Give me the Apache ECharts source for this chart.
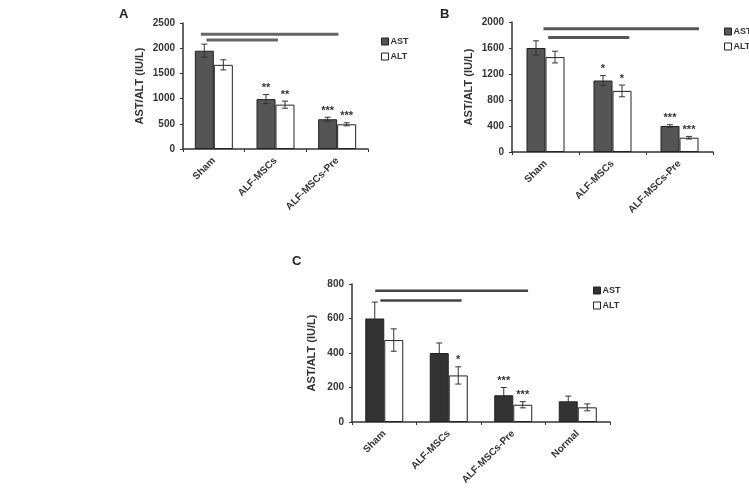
<!DOCTYPE html>
<html>
<head>
<meta charset="utf-8">
<script src="https://cdn.jsdelivr.net/npm/echarts@6/dist/echarts.min.js"></script>
<style>
  html, body { margin: 0; padding: 0; background: #fff; }
  #main { width: 749px; height: 490px; }
</style>
</head>
<body>
<div id="main"></div>
<script>
var chart = echarts.init(document.getElementById('main'));

// categories
var catsAB = ['Sham', 'ALF-MSCs', 'ALF-MSCs-Pre'];
var catsC = ['Sham', 'ALF-MSCs', 'ALF-MSCs-Pre', 'Normal'];

// panel A
var astA = [1950, 990, 590];
var altA = [1670, 880, 490];
var astErrA = [130, 90, 40];
var altErrA = [100, 70, 30];
var astStarsA = ['', '**', '***'];
var altStarsA = ['', '**', '***'];
var bracketsA = [[-0.21, 2.02, 2276], [-0.12, 1.04, 2163]];

// panel B
var astB = [1600, 1100, 400];
var altB = [1460, 940, 220];
var astErrB = [110, 75, 20];
var altErrB = [90, 90, 20];
var astStarsB = ['', '*', '***'];
var altStarsB = ['', '*', '***'];
var bracketsB = [[-0.03, 2.29, 1898], [0.04, 1.25, 1760]];

// panel C
var astC = [600, 400, 155, 120];
var altC = [475, 270, 100, 85];
var astErrC = [95, 58, 45, 30];
var altErrC = [65, 50, 18, 20];
var astStarsC = ['', '', '***', ''];
var altStarsC = ['', '*', '***', ''];
var bracketsC = [[-0.14, 2.23, 761], [-0.06, 1.20, 705]];

var font = 'Liberation Sans, Arial, sans-serif';
var barW = 19;

function errData(vals, errs) {
    return vals.map(function (v, i) { return [i, v - errs[i], v + errs[i]]; });
}

function errRender(sign, stars) {
    return function (params, api) {
        var i = api.value(0);
        var top = api.coord([i, api.value(2)]);
        var bot = api.coord([i, api.value(1)]);
        var x = top[0] + sign * barW / 2;
        var st = { stroke: '#333', lineWidth: 1 };
        var kids = [
            { type: 'line', shape: { x1: x, y1: top[1], x2: x, y2: bot[1] }, style: st },
            { type: 'line', shape: { x1: x - 3, y1: top[1], x2: x + 3, y2: top[1] }, style: st },
            { type: 'line', shape: { x1: x - 3, y1: bot[1], x2: x + 3, y2: bot[1] }, style: st }
        ];
        var s = stars[params.dataIndex];
        if (s) {
            kids.push({
                type: 'text',
                style: {
                    text: s, x: x, y: top[1] - 1, align: 'center', verticalAlign: 'bottom',
                    font: 'bold 11px ' + font, fill: '#333'
                }
            });
        }
        return { type: 'group', children: kids };
    };
}

function bracketRender(color, width) {
    return function (params, api) {
        var bw = api.size([1, 0])[0];
        var p = api.coord([0, api.value(2)]);
        return {
            type: 'line',
            shape: { x1: p[0] + api.value(0) * bw, y1: p[1], x2: p[0] + api.value(1) * bw, y2: p[1] },
            style: { stroke: color, lineWidth: width }
        };
    };
}

function xAxis(gi, cats) {
    return {
        type: 'category', gridIndex: gi, data: cats,
        axisLine: { lineStyle: { color: '#333', width: 1.5 } },
        axisTick: { show: true, length: 3, lineStyle: { color: '#333' } },
        axisLabel: { rotate: 45, fontSize: 10, fontWeight: 'bold', color: '#333', fontFamily: font, margin: 10 }
    };
}

function yAxis(gi, max, interval, gap) {
    return {
        type: 'value', gridIndex: gi, min: 0, max: max, interval: interval,
        name: 'AST/ALT (IU/L)', nameLocation: 'middle', nameGap: gap,
        nameTextStyle: { fontSize: 11, fontWeight: 'bold', color: '#333', fontFamily: font },
        axisLine: { show: true, lineStyle: { color: '#333', width: 1.5 } },
        axisTick: { show: true, length: 3, lineStyle: { color: '#333' } },
        splitLine: { show: false },
        axisLabel: {
            fontSize: 10, fontWeight: 'bold', color: '#333', fontFamily: font, margin: 8,
            formatter: function (v) { return String(v); }
        }
    };
}

function bars(gi, ast, alt, astColor) {
    return [
        {
            name: 'AST', type: 'bar', xAxisIndex: gi, yAxisIndex: gi, data: ast,
            barWidth: barW, barGap: '0%',
            itemStyle: { color: astColor, borderColor: '#222', borderWidth: 1 }
        },
        {
            name: 'ALT', type: 'bar', xAxisIndex: gi, yAxisIndex: gi, data: alt,
            barWidth: barW, barGap: '0%',
            itemStyle: { color: '#fff', borderColor: '#222', borderWidth: 1 }
        }
    ];
}

function extras(gi, ast, alt, astErr, altErr, astStars, altStars, brackets, lineColor, lineW) {
    return [
        { type: 'custom', xAxisIndex: gi, yAxisIndex: gi, renderItem: errRender(-1, astStars), data: errData(ast, astErr), z: 5 },
        { type: 'custom', xAxisIndex: gi, yAxisIndex: gi, renderItem: errRender(1, altStars), data: errData(alt, altErr), z: 5 },
        { type: 'custom', xAxisIndex: gi, yAxisIndex: gi, renderItem: bracketRender(lineColor, lineW), data: brackets, z: 5 }
    ];
}

function legend(left, top, astColor) {
    return {
        left: left, top: top, orient: 'vertical', itemGap: 6, itemWidth: 7, itemHeight: 7,
        icon: 'rect', selectedMode: false,
        textStyle: { fontSize: 9, fontWeight: 'bold', color: '#333', fontFamily: font, padding: [0, 0, 0, -3] },
        data: [
            { name: 'AST', itemStyle: { color: astColor, borderColor: '#222', borderWidth: 1 } },
            { name: 'ALT', itemStyle: { color: '#fff', borderColor: '#222', borderWidth: 1 } }
        ]
    };
}

var option = {
    animation: false,
    backgroundColor: '#fff',
    title: [
        { text: 'A', left: 114, top: 3, textStyle: { fontSize: 13, fontWeight: 'bold', color: '#222', fontFamily: font } },
        { text: 'B', left: 435, top: 3, textStyle: { fontSize: 13, fontWeight: 'bold', color: '#222', fontFamily: font } },
        { text: 'C', left: 287, top: 250, textStyle: { fontSize: 13, fontWeight: 'bold', color: '#222', fontFamily: font } }
    ],
    legend: [
        legend(376, 32, '#555'),
        legend(719, 22, '#555'),
        legend(588, 281, '#333')
    ],
    grid: [
        { left: 183, top: 23, width: 185, height: 126 },
        { left: 512, top: 22, width: 201, height: 130 },
        { left: 352, top: 284, width: 258, height: 138 }
    ],
    xAxis: [xAxis(0, catsAB), xAxis(1, catsAB), xAxis(2, catsC)],
    yAxis: [yAxis(0, 2500, 500, 38), yAxis(1, 2000, 400, 38), yAxis(2, 800, 200, 35)],
    series: [].concat(
        bars(0, astA, altA, '#555'),
        bars(1, astB, altB, '#555'),
        bars(2, astC, altC, '#333'),
        extras(0, astA, altA, astErrA, altErrA, astStarsA, altStarsA, bracketsA, '#666', 3),
        extras(1, astB, altB, astErrB, altErrB, astStarsB, altStarsB, bracketsB, '#555', 3),
        extras(2, astC, altC, astErrC, altErrC, astStarsC, altStarsC, bracketsC, '#444', 2.5)
    )
};

chart.setOption(option);
</script>
</body>
</html>
